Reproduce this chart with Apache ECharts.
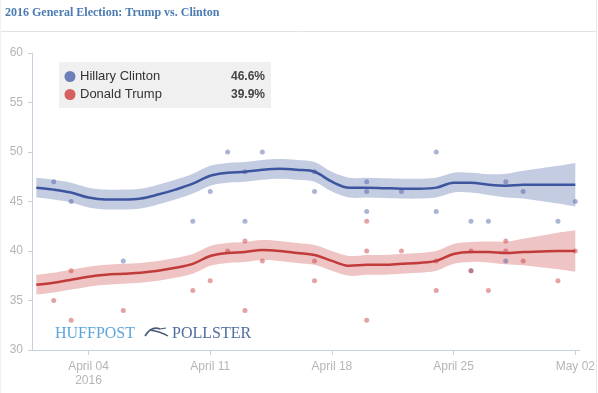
<!DOCTYPE html>
<html>
<head>
<meta charset="utf-8">
<script src="https://cdn.jsdelivr.net/npm/echarts@6/dist/echarts.min.js"></script>
<style>
html,body{margin:0;padding:0;background:#fff;}
#c{width:598px;height:393px;}
</style>
</head>
<body>
<div id="c"></div>
<script>
// ---------- DATA ----------
var titleText = '2016 General Election: Trump vs. Clinton';
var candidates = ['Hillary Clinton', 'Donald Trump'];
var latestValues = ['46.6%', '39.9%'];

var trendDates = ['2016-04-01','2016-04-02','2016-04-03','2016-04-04','2016-04-05','2016-04-06','2016-04-07','2016-04-08',
  '2016-04-09','2016-04-10','2016-04-11','2016-04-12','2016-04-13','2016-04-14','2016-04-15','2016-04-16',
  '2016-04-17','2016-04-18','2016-04-19','2016-04-20','2016-04-21','2016-04-22','2016-04-23','2016-04-24',
  '2016-04-25','2016-04-26','2016-04-27','2016-04-28','2016-04-29','2016-04-30','2016-05-01','2016-05-02'];
var clintonTrend = [46.4,46.2,45.9,45.4,45.2,45.2,45.3,45.7,46.2,46.8,47.6,47.9,48.0,48.2,48.3,48.2,
  48.0,47.0,46.4,46.4,46.35,46.3,46.3,46.4,46.9,46.9,46.7,46.6,46.7,46.7,46.7,46.7];
var clintonMargin = [1.0,1.0,1.0,1.0,1.0,1.0,1.0,1.0,1.0,1.0,1.0,1.0,1.0,1.0,1.0,1.0,
  1.0,1.0,1.0,1.0,1.0,1.0,1.0,1.0,1.0,1.0,1.05,1.2,1.4,1.65,1.9,2.2];
var trumpTrend = [36.6,36.8,37.1,37.4,37.6,37.7,37.8,38.0,38.3,38.7,39.5,39.8,39.9,40.1,40.0,39.8,
  39.6,39.0,38.5,38.6,38.6,38.7,38.8,39.0,39.7,39.9,39.9,39.8,39.9,39.95,40.0,40.0];
var trumpMargin = [1.0,1.0,1.0,1.0,1.0,1.0,1.0,1.0,1.0,1.0,1.0,1.0,1.0,1.0,1.0,1.0,
  1.0,1.0,1.0,1.0,1.0,1.0,1.0,1.0,1.0,1.0,1.05,1.15,1.35,1.6,1.85,2.1];

var clintonPollDates = ['2016-04-02','2016-04-03','2016-04-06','2016-04-10','2016-04-11','2016-04-12','2016-04-13','2016-04-13',
  '2016-04-14','2016-04-17','2016-04-17','2016-04-20','2016-04-20','2016-04-20','2016-04-22','2016-04-24','2016-04-24',
  '2016-04-26','2016-04-26','2016-04-27','2016-04-28','2016-04-28','2016-04-29','2016-05-01','2016-05-02'];
var clintonPollValues = [47,45,39,43,46,50,48,43,50,48,46,47,46,44,46,50,44,43,38,43,47,39,46,43,45];

var trumpPollDates = ['2016-04-02','2016-04-03','2016-04-03','2016-04-06','2016-04-10','2016-04-11','2016-04-12','2016-04-13',
  '2016-04-13','2016-04-14','2016-04-17','2016-04-17','2016-04-20','2016-04-20','2016-04-20','2016-04-22','2016-04-24',
  '2016-04-24','2016-04-26','2016-04-26','2016-04-27','2016-04-28','2016-04-28','2016-04-29','2016-05-01','2016-05-02'];
var trumpPollValues = [35,38,33,34,36,37,40,41,34,39,39,37,43,40,33,40,39,36,40,38,36,41,40,39,37,40];

var tickDates = ['2016-04-04','2016-04-11','2016-04-18','2016-04-25','2016-05-02'];
var tickLabels = ['April 04\n2016','April 11','April 18','April 25','May 02'];
var yTicks = [30,35,40,45,50,55,60];
var axisStart = '2016-03-31T18:00:00Z';
var axisEnd = '2016-05-02T06:30:00Z';

// ---------- HELPERS ----------
// x positions: days since the first tick date (value axis)
var baseMs = new Date(tickDates[0] + 'T00:00:00Z').getTime();
function dayNum(d){
  var ms = new Date(d.length > 10 ? d : d + 'T00:00:00Z').getTime();
  return (ms - baseMs) / 86400000;
}
function pairs(dates, vals){ return dates.map(function(d,i){ return [dayNum(d), vals[i]]; }); }

var tickX = tickDates.map(dayNum);
var blueLine = '#3d559e', redLine = '#c23b3b';

// Catmull-Rom -> cubic bezier path pieces
function curveCmds(pts, t){
  var s = '';
  for (var i = 0; i < pts.length - 1; i++) {
    var p0 = pts[Math.max(0, i - 1)], p1 = pts[i], p2 = pts[i + 1], p3 = pts[Math.min(pts.length - 1, i + 2)];
    var c1x = p1[0] + (p2[0] - p0[0]) * t, c1y = p1[1] + (p2[1] - p0[1]) * t;
    var c2x = p2[0] - (p3[0] - p1[0]) * t, c2y = p2[1] - (p3[1] - p1[1]) * t;
    s += ' C' + c1x.toFixed(2) + ',' + c1y.toFixed(2) + ' ' + c2x.toFixed(2) + ',' + c2y.toFixed(2) + ' ' + p2[0].toFixed(2) + ',' + p2[1].toFixed(2);
  }
  return s;
}
function bandSeries(trend, margin, color){
  return {
    type: 'custom', silent: true, z: 1,
    data: [[dayNum(trendDates[0]), trend[0]]],
    renderItem: function(params, api){
      var up = trendDates.map(function(d,i){ return api.coord([dayNum(d), trend[i] + margin[i]]); });
      var lo = trendDates.map(function(d,i){ return api.coord([dayNum(d), trend[i] - margin[i]]); }).reverse();
      var path = 'M' + up[0][0] + ',' + up[0][1] + curveCmds(up, 0.17) +
        ' L' + lo[0][0] + ',' + lo[0][1] + curveCmds(lo, 0.17) + ' Z';
      return { type: 'path', shape: { pathData: path }, style: { fill: color } };
    }
  };
}

var chart = echarts.init(document.getElementById('c'));
var axisColor = '#c7d0e0';
var labelColor = '#b5b5b5';
var sm = 0.35;

chart.setOption({
  animation: false,
  backgroundColor: '#ffffff',
  grid: { left: 32, right: 11, top: 53, bottom: 43, containLabel: false },
  xAxis: {
    type: 'value',
    min: dayNum(axisStart), max: dayNum(axisEnd),
    axisLine: { show: true, onZero: false, lineStyle: { color: axisColor, width: 1 } },
    axisTick: { show: true, length: 5, lineStyle: { color: axisColor }, customValues: tickX },
    axisLabel: {
      customValues: tickX,
      color: labelColor, fontSize: 12, fontFamily: 'Liberation Sans, Arial, sans-serif',
      margin: 10, lineHeight: 14, hideOverlap: false,
      formatter: function(v){
        for (var i = 0; i < tickX.length; i++) { if (Math.abs(tickX[i] - v) < 1e-6) return tickLabels[i]; }
        return '';
      }
    },
    splitLine: { show: false }
  },
  yAxis: {
    type: 'value', min: 30, max: 60, interval: 5,
    axisLine: { show: true, onZero: false, lineStyle: { color: axisColor, width: 1 } },
    axisTick: { show: true, length: 4, lineStyle: { color: axisColor } },
    axisLabel: { color: labelColor, fontSize: 12, fontFamily: 'Liberation Sans, Arial, sans-serif', margin: 9,
      formatter: function(v){ return yTicks.indexOf(v) >= 0 ? String(v) : ''; } },
    splitLine: { show: false }
  },
  series: [
    bandSeries(clintonTrend, clintonMargin, 'rgba(61,85,158,0.3)'),
    bandSeries(trumpTrend, trumpMargin, 'rgba(200,60,60,0.3)'),
    { type: 'scatter', data: pairs(clintonPollDates, clintonPollValues), symbolSize: 5,
      itemStyle: { color: 'rgba(61,85,158,0.55)' }, z: 2 },
    { type: 'scatter', data: pairs(trumpPollDates, trumpPollValues), symbolSize: 5,
      itemStyle: { color: 'rgba(200,60,60,0.6)' }, z: 2 },
    { type: 'line', data: pairs(trendDates, clintonTrend), smooth: sm, symbol: 'none',
      lineStyle: { color: blueLine, width: 2.5 }, z: 3 },
    { type: 'line', data: pairs(trendDates, trumpTrend), smooth: sm, symbol: 'none',
      lineStyle: { color: redLine, width: 2.5 }, z: 3 }
  ],
  graphic: [
    { type: 'line', shape: { x1: 0, y1: 31.5, x2: 597, y2: 31.5 }, style: { stroke: '#e3e3e3', lineWidth: 1 }, silent: true },
    { type: 'line', shape: { x1: 596.5, y1: 0, x2: 596.5, y2: 393 }, style: { stroke: '#e6e6e6', lineWidth: 1 }, silent: true },
    { type: 'line', shape: { x1: 0.5, y1: 0, x2: 0.5, y2: 393 }, style: { stroke: '#f0f0f0', lineWidth: 1 }, silent: true },
    { type: 'text', left: 5, top: 7, style: { text: titleText, fill: '#4b7bb0',
      font: 'bold 12px "Liberation Serif", "DejaVu Serif", serif' } },
    { type: 'rect', shape: { x: 59, y: 62, width: 212, height: 46 }, style: { fill: '#f0f0f0' }, z: 10 },
    { type: 'circle', shape: { cx: 70, cy: 76.5, r: 5.5 }, style: { fill: '#6d7fb8' }, z: 11 },
    { type: 'circle', shape: { cx: 70, cy: 94.5, r: 5.5 }, style: { fill: '#d5605f' }, z: 11 },
    { type: 'text', x: 80, y: 76.5, style: { text: candidates[0], fill: '#333', font: '13px "Liberation Sans", Arial, sans-serif',
      verticalAlign: 'middle' }, z: 11 },
    { type: 'text', x: 80, y: 94.5, style: { text: candidates[1], fill: '#333', font: '13px "Liberation Sans", Arial, sans-serif',
      verticalAlign: 'middle' }, z: 11 },
    { type: 'text', x: 265, y: 76.5, style: { text: latestValues[0], fill: '#444', font: 'bold 12px "Liberation Sans", Arial, sans-serif',
      align: 'right', verticalAlign: 'middle' }, z: 11 },
    { type: 'text', x: 265, y: 94.5, style: { text: latestValues[1], fill: '#444', font: 'bold 12px "Liberation Sans", Arial, sans-serif',
      align: 'right', verticalAlign: 'middle' }, z: 11 },
    { type: 'text', x: 55, y: 334, style: { text: 'HUFFPOST', fill: '#5ba5d9', font: '16px "Liberation Serif", "DejaVu Serif", serif',
      verticalAlign: 'middle' }, z: 11 },
    { type: 'text', x: 172, y: 334, style: { text: 'POLLSTER', fill: '#4f6d9e', font: '16px "Liberation Serif", "DejaVu Serif", serif',
      verticalAlign: 'middle' }, z: 11 },
    { type: 'bezierCurve', shape: { x1: 145, y1: 336, cpx1: 150, cpy1: 328, x2: 160, y2: 329, cpx2: 155, cpy2: 327 },
      style: { stroke: '#4a5a78', lineWidth: 1.6, fill: null }, z: 11 },
    { type: 'bezierCurve', shape: { x1: 150, y1: 330, cpx1: 157, cpy1: 331, x2: 168, y2: 336, cpx2: 163, cpy2: 333 },
      style: { stroke: '#4a5a78', lineWidth: 1.4, fill: null }, z: 11 },
    { type: 'line', shape: { x1: 160, y1: 329, x2: 166, y2: 328 }, style: { stroke: '#4a5a78', lineWidth: 1.2 }, z: 11 }
  ]
});
</script>
</body>
</html>
